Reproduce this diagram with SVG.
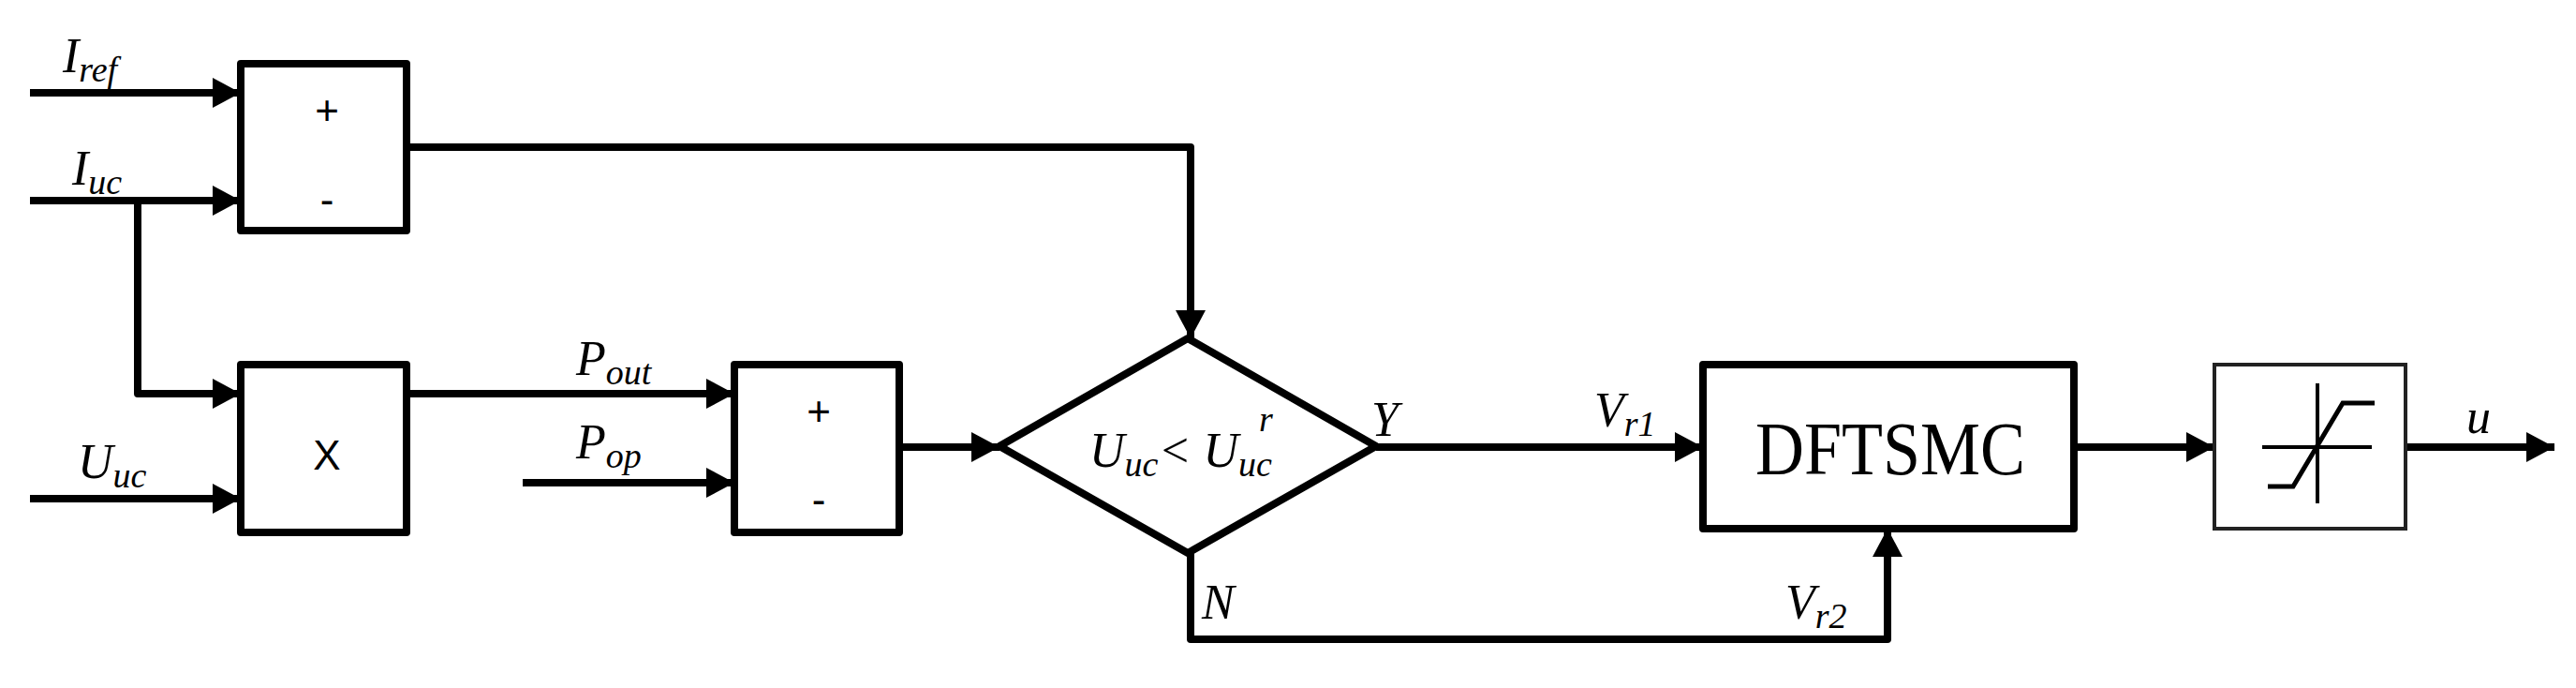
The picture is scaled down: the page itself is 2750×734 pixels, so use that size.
<svg xmlns="http://www.w3.org/2000/svg" width="2750" height="734" viewBox="0 0 2750 734">
<style>
.b{fill:#fff;stroke:#000;stroke-width:8;stroke-linejoin:round}
.c{fill:none;stroke:#000;stroke-width:8;stroke-linejoin:round}
.t{font-family:"Liberation Serif",serif;font-style:italic;font-size:52px}
.s{font-size:38px}
.op{font-family:"Liberation Sans",sans-serif;font-size:44px;text-anchor:middle}
</style>
<defs>
<marker id="a" markerUnits="userSpaceOnUse" markerWidth="32" markerHeight="32" refX="30" refY="16" orient="auto">
<polygon points="0,0 30,16 0,32"/>
</marker>
</defs>
<rect width="2750" height="734" fill="#fff"/>
<g id="connectors">
<path class="c" d="M32,99H257" marker-end="url(#a)"/>
<path class="c" d="M32,214H257" marker-end="url(#a)"/>
<path class="c" d="M147,214V420H257" marker-end="url(#a)"/>
<path class="c" d="M32,532H257" marker-end="url(#a)"/>
<path class="c" d="M434,157H1271V361" marker-end="url(#a)"/>
<path class="c" d="M434,420H784" marker-end="url(#a)"/>
<path class="c" d="M558,515H784" marker-end="url(#a)"/>
<path class="c" d="M960,477H1067" marker-end="url(#a)"/>
<path class="c" d="M1469,477H1818" marker-end="url(#a)"/>
<path class="c" d="M1271,590V682H2015V564" marker-end="url(#a)"/>
<path class="c" d="M2214,477H2364" marker-end="url(#a)"/>
<path class="c" d="M2568,477H2727" marker-end="url(#a)"/>
</g>
<g id="sum1"><rect class="b" x="257" y="68" width="177" height="178"/>
<text class="op" x="349" y="133">+</text><text class="op" x="349" y="228">-</text></g>
<g id="mult"><rect class="b" x="257" y="389" width="177" height="179"/>
<text class="op" x="349" y="501">X</text></g>
<g id="sum2"><rect class="b" x="784" y="389" width="176" height="179"/>
<text class="op" x="874" y="454">+</text><text class="op" x="874" y="548">-</text></g>
<g id="decision"><polygon class="b" points="1067,476 1268,361 1469,476 1268,590"/>
<text class="t" x="1163" y="498">U<tspan class="s" dy="10">uc</tspan><tspan dy="-10">&lt; U</tspan><tspan class="s" dy="10">uc</tspan><tspan class="s" dx="-14" dy="-48">r</tspan></text></g>
<g id="dftsmc"><rect class="b" x="1818" y="389" width="396" height="175"/>
<text x="2018" y="506" font-family="Liberation Serif,serif" font-size="80" text-anchor="middle" textLength="288" lengthAdjust="spacingAndGlyphs">DFTSMC</text></g>
<g id="sat"><rect x="2364" y="389" width="204" height="175" fill="#fff" stroke="#222" stroke-width="4"/>
<path d="M2474,409V537M2415,477H2532" stroke="#000" stroke-width="4" fill="none"/>
<path d="M2421,519H2448L2501,430H2535" stroke="#000" stroke-width="5" fill="none"/></g>
<g id="labels">
<text class="t" x="67" y="77">I<tspan class="s" dy="10">ref</tspan></text>
<text class="t" x="77" y="197">I<tspan class="s" dy="10">uc</tspan></text>
<text class="t" x="83" y="510">U<tspan class="s" dy="10">uc</tspan></text>
<text class="t" x="615" y="400">P<tspan class="s" dy="10">out</tspan></text>
<text class="t" x="615" y="489">P<tspan class="s" dy="10">op</tspan></text>
<text class="t" x="1464" y="465">Y</text>
<text class="t" x="1702" y="455">V<tspan class="s" dy="10">r1</tspan></text>
<text class="t" x="1283" y="660">N</text>
<text class="t" x="1906" y="660">V<tspan class="s" dy="10">r2</tspan></text>
<text class="t" x="2633" y="462">u</text>
</g>
</svg>
